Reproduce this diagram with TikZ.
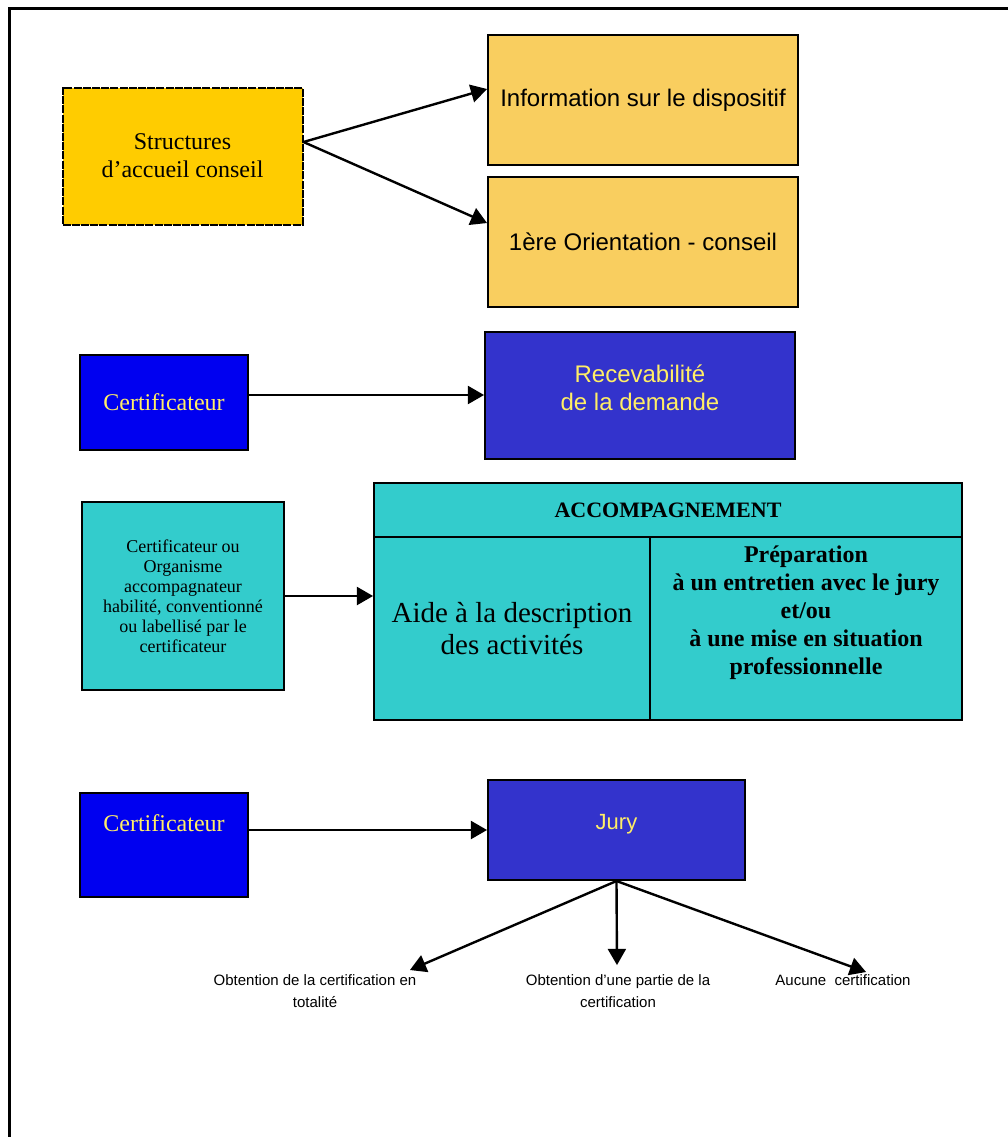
\documentclass[tikz,border=0pt]{standalone}
\usepackage{fontspec}
\setmainfont{Liberation Serif}
\setsansfont{Liberation Sans}
\usetikzlibrary{arrows}
\definecolor{gold}{HTML}{FFCC00}
\definecolor{sable}{HTML}{F9CE5F}
\definecolor{bleu}{HTML}{0000F0}
\definecolor{indigo}{HTML}{3333CC}
\definecolor{turq}{HTML}{33CCCC}
\definecolor{jaune}{HTML}{FFEE66}

\begin{document}
\begin{tikzpicture}[x=0.5pt,y=-0.5pt,
  boite/.style={draw,line width=1pt,inner sep=2pt,align=center},
  res/.style={align=center,font=\sffamily\fontsize{7.5}{11}\selectfont},
  fl/.style={->,>=triangle 60,line width=1.2pt}]
\useasboundingbox (0,0) rectangle (1008,1137);
\draw[line width=1.5pt] (9,1137) -- (9,8) -- (1008,8);

% accueil
\node[boite,fill=gold,dash pattern=on 4pt off 0.6pt,minimum width=120pt,minimum height=68.5pt,font=\fontsize{12}{14}\selectfont] (sac) at (182.5,156) {Structures\\d'accueil conseil};
\node[boite,fill=sable,minimum width=155pt,minimum height=65pt,font=\sffamily\fontsize{12}{14}\selectfont] (info) at (643,100) {Information sur le dispositif};
\node[boite,fill=sable,minimum width=155pt,minimum height=65pt,font=\sffamily\fontsize{12}{14}\selectfont] (ori) at (643,242) {1ère Orientation - conseil};

% recevabilite
\node[boite,fill=bleu,text=jaune,minimum width=84pt,minimum height=47.5pt,font=\fontsize{12}{14}\selectfont] (cert1) at (164,402.5) {Certificateur};
\node[boite,fill=indigo,text=jaune,minimum width=155pt,minimum height=63.5pt,text depth=7pt,font=\sffamily\fontsize{12}{14}\selectfont] (rec) at (640,395) {Recevabilité\\de la demande};

% accompagnement
\node[boite,fill=turq,minimum width=101pt,minimum height=94pt,font=\fontsize{9}{10}\selectfont] (orga) at (183,596) {Certificateur ou\\Organisme\\accompagnateur\\habilité, conventionné\\ou labellisé par le\\certificateur};
\node[boite,fill=turq,minimum width=294pt,minimum height=27pt,font=\bfseries\fontsize{11}{13}\selectfont] (head) at (668,510) {ACCOMPAGNEMENT};
\node[boite,fill=turq,minimum width=138pt,minimum height=91.5pt,font=\fontsize{14.5}{16}\selectfont] (aide) at (512,628.5) {Aide à la description\\des activités};
\node[boite,fill=turq,minimum width=156pt,minimum height=91.5pt,text depth=18pt,font=\bfseries\fontsize{12}{14}\selectfont] (prep) at (806,628.5) {Préparation\\à un entretien avec le jury\\et/ou\\à une mise en situation\\professionnelle};

% jury
\node[boite,fill=bleu,text=jaune,minimum width=84pt,minimum height=52pt,text depth=22pt,font=\fontsize{12}{14}\selectfont] (cert2) at (164,845) {Certificateur};
\node[boite,fill=indigo,text=jaune,minimum width=128.5pt,minimum height=50pt,text depth=8pt,font=\sffamily\fontsize{11}{13}\selectfont] (jury) at (616.5,830) {Jury};

\node[res] (r1) at (315,991) {Obtention de la certification en\\totalité};
\node[res] (r2) at (618,991) {Obtention d'une partie de la\\certification};
\node[res] (r3) at (843,980) {Aucune~ certification};
\coordinate (t1) at (410,970);
\coordinate (t2) at (617,965);
\coordinate (t3) at (866,972);

\path[fl]
([yshift=7pt]sac.east) edge ([yshift=5.5pt]info.west)
([yshift=7pt]sac.east) edge ([yshift=9.5pt]ori.west)
(rec.west -| cert1.east) edge (rec.west)
(orga.east) edge (orga.east -| aide.west)
(jury.west -| cert2.east) edge (jury.west)
(jury.south) edge (t1)
(jury.south) edge (t2)
(jury.south) edge (t3)
;
\end{tikzpicture}
\end{document}
